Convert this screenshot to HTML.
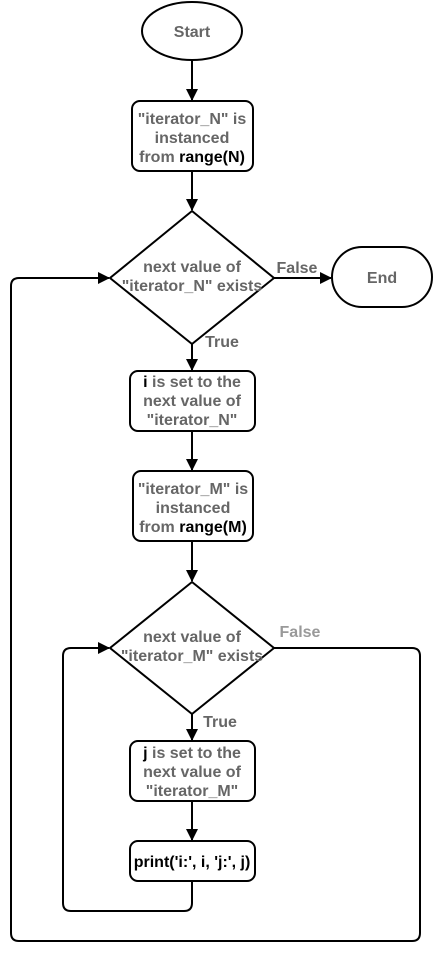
<!DOCTYPE html>
<html><head><style>
html,body{margin:0;padding:0;background:#fff;}
svg text{font-family:"Liberation Sans",sans-serif;font-weight:bold;font-size:16px;fill:#666;text-anchor:middle;}
</style></head><body>
<svg width="433" height="952" viewBox="0 0 433 952" xmlns="http://www.w3.org/2000/svg">
<defs><marker id="a" markerWidth="12" markerHeight="12" refX="11" refY="6" orient="auto" markerUnits="userSpaceOnUse"><path d="M0,0 L12,6 L0,12 z" fill="#000"/></marker></defs>
<g stroke="#000" stroke-width="2" fill="none">
<ellipse cx="192" cy="31" rx="50" ry="29" fill="#fff"/>
<rect x="132" y="101" width="121" height="70" rx="8" fill="#fff"/>
<polygon points="192,211 274,278 192,344 110,278" fill="#fff"/>
<rect x="332" y="247" width="100" height="60" rx="30" fill="#fff"/>
<rect x="130" y="371" width="125" height="60" rx="8" fill="#fff"/>
<rect x="133" y="471" width="120" height="70" rx="8" fill="#fff"/>
<polygon points="192,582 274,648 192,714 110,648" fill="#fff"/>
<rect x="130" y="741" width="125" height="60" rx="8" fill="#fff"/>
<rect x="130" y="841" width="125" height="40" rx="8" fill="#fff"/>
<path d="M192,60 V100" marker-end="url(#a)"/>
<path d="M192,171 V210" marker-end="url(#a)"/>
<path d="M274,278 H331" marker-end="url(#a)"/>
<path d="M192,344 V370" marker-end="url(#a)"/>
<path d="M192,431 V470" marker-end="url(#a)"/>
<path d="M192,541 V581" marker-end="url(#a)"/>
<path d="M192,714 V740" marker-end="url(#a)"/>
<path d="M192,801 V840" marker-end="url(#a)"/>
<path d="M192,881 V903 Q192,911 184,911 H71 Q63,911 63,903 V656 Q63,648 71,648 H109" marker-end="url(#a)"/>
<path d="M274,648 H412 Q420,648 420,656 V933 Q420,941 412,941 H19 Q11,941 11,933 V286 Q11,278 19,278 H109" marker-end="url(#a)"/>
</g>
<text x="192" y="37">Start</text>
<text x="192" y="124">"iterator_N" is</text>
<text x="192" y="143">instanced</text>
<text x="192" y="162">from <tspan style="fill:#000">range(N)</tspan></text>
<text x="192" y="272">next value of</text>
<text x="192" y="291">"iterator_N" exists</text>
<text x="297" y="273">False</text>
<text x="382" y="283">End</text>
<text x="222" y="347">True</text>
<text x="192" y="387"><tspan style="fill:#000">i</tspan> is set to the</text>
<text x="192" y="406">next value of</text>
<text x="192" y="425">"iterator_N"</text>
<text x="193" y="494">"iterator_M" is</text>
<text x="193" y="513">instanced</text>
<text x="193" y="532">from <tspan style="fill:#000">range(M)</tspan></text>
<text x="192" y="642">next value of</text>
<text x="192" y="661">"iterator_M" exists</text>
<text x="300" y="637" style="fill:#999">False</text>
<text x="220" y="727">True</text>
<text x="192" y="758"><tspan style="fill:#000">j</tspan> is set to the</text>
<text x="192" y="777">next value of</text>
<text x="192" y="796">"iterator_M"</text>
<text x="192" y="867" style="fill:#000">print('i:', i, 'j:', j)</text>
</svg>
</body></html>
